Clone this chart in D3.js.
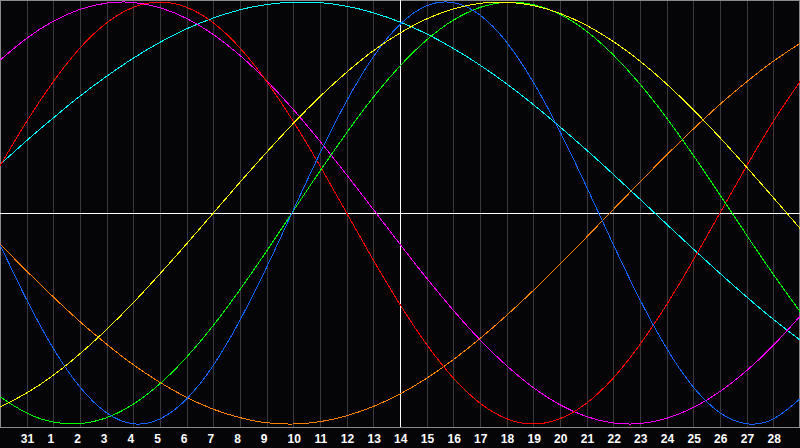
<!DOCTYPE html>
<html><head><meta charset="utf-8">
<script src="https://cdn.jsdelivr.net/npm/d3@7"></script>
<style>html,body{margin:0;padding:0;background:#050508;overflow:hidden}svg{display:block}</style>
</head><body>
<script>
// day labels (first and last sit on the chart edges and are not labelled)
const days = [30,31,1,2,3,4,5,6,7,8,9,10,11,12,13,14,15,16,17,18,19,20,21,22,23,24,25,26,27,28,29];
const todayIndex = 15; // day 14

// cycle values per day, -1..1
const physical = [-0.150,-0.411,-0.642,-0.825,-0.947,-0.999,-0.976,-0.881,-0.722,-0.508,-0.257,0.014,0.283,0.531,0.740,0.894,0.982,0.997,0.938,0.809,0.620,0.386,0.123,-0.150,-0.411,-0.642,-0.825,-0.947,-0.999,-0.976,-0.881];
const emotional = [0.223,0.434,0.623,0.782,0.901,0.975,1.000,0.975,0.901,0.782,0.623,0.434,0.223,0.000,-0.223,-0.434,-0.623,-0.782,-0.901,-0.975,-1.000,-0.975,-0.901,-0.782,-0.623,-0.434,-0.223,0.000,0.223,0.434,0.623];
const intellectual = [-0.871,-0.948,-0.991,-0.998,-0.970,-0.906,-0.809,-0.683,-0.533,-0.363,-0.180,0.010,0.199,0.380,0.549,0.697,0.820,0.914,0.974,0.999,0.988,0.942,0.861,0.749,0.611,0.450,0.273,0.086,-0.105,-0.291,-0.467];
const intuitive = [0.724,0.828,0.909,0.965,0.995,0.998,0.973,0.922,0.846,0.747,0.627,0.490,0.340,0.181,0.017,-0.148,-0.309,-0.461,-0.601,-0.724,-0.828,-0.909,-0.965,-0.995,-0.998,-0.973,-0.922,-0.846,-0.747,-0.627,-0.490];
const aesthetic = [-0.920,-0.853,-0.769,-0.667,-0.552,-0.425,-0.288,-0.146,0.000,0.146,0.288,0.425,0.552,0.667,0.769,0.853,0.920,0.967,0.994,0.999,0.983,0.946,0.889,0.813,0.720,0.611,0.489,0.357,0.217,0.073,-0.073];
const awareness = [-0.147,-0.275,-0.398,-0.515,-0.622,-0.719,-0.803,-0.874,-0.930,-0.970,-0.994,-1.000,-0.989,-0.961,-0.917,-0.858,-0.783,-0.695,-0.595,-0.485,-0.367,-0.242,-0.114,0.017,0.147,0.275,0.398,0.515,0.622,0.719,0.804];
const spiritual = [0.229,0.343,0.451,0.554,0.648,0.734,0.809,0.873,0.924,0.963,0.988,0.999,0.997,0.980,0.949,0.905,0.849,0.780,0.701,0.612,0.514,0.408,0.298,0.183,0.065,-0.053,-0.171,-0.286,-0.398,-0.504,-0.602];

const seriesNames = ["awareness","spiritual","intuitive","emotional","intellectual","physical","aesthetic"];
const seriesValues = [awareness, spiritual, intuitive, emotional, intellectual, physical, aesthetic];
const seriesColors = ["#ff8000","#00ffff","#ff00ff","#ff0000","#00ff00","#1064ff","#ffff00"];

const W = 800, H = 448, plotBottom = 427;
const svg = d3.select("body").append("svg").attr("width", W).attr("height", H);
svg.append("rect").attr("width", W).attr("height", H).attr("fill", "#050508");

const x = d3.scaleLinear().domain([0, days.length - 1]).range([0, W]);
const y = d3.scaleLinear().domain([-1, 1]).range([424, 2]);

// day grid
const gridIdx = d3.range(1, days.length - 1);
svg.append("g").selectAll("line").data(gridIdx).join("line")
  .attr("x1", i => Math.round(x(i)) + 0.5).attr("x2", i => Math.round(x(i)) + 0.5)
  .attr("y1", 0).attr("y2", plotBottom)
  .attr("stroke", "#3a3a3c").attr("stroke-width", 1).attr("shape-rendering", "crispEdges");

// border
svg.append("rect").attr("x", 0.5).attr("y", 0.5).attr("width", W - 1).attr("height", plotBottom)
  .attr("fill", "none").attr("stroke", "#8a8a8a").attr("shape-rendering", "crispEdges");

// axes lines
svg.append("line").attr("x1", 0).attr("x2", W).attr("y1", Math.round(y(0)) + 0.5).attr("y2", Math.round(y(0)) + 0.5)
  .attr("stroke", "#ffffff").attr("stroke-width", 1).attr("shape-rendering", "crispEdges");
svg.append("line").attr("x1", Math.round(x(todayIndex)) + 0.5).attr("x2", Math.round(x(todayIndex)) + 0.5)
  .attr("y1", 0).attr("y2", plotBottom)
  .attr("stroke", "#ffffff").attr("stroke-width", 1).attr("shape-rendering", "crispEdges");

// curves
const line = d3.line().x((d, i) => x(i)).y(d => y(d)).curve(d3.curveNatural);
svg.append("g").selectAll("path").data(seriesValues).join("path")
  .attr("d", d => line(d)).attr("fill", "none")
  .attr("stroke", (d, i) => seriesColors[i]).attr("stroke-width", 1)
  .attr("shape-rendering", "crispEdges");

// labels
svg.append("g").selectAll("text").data(gridIdx).join("text")
  .attr("x", i => x(i) + (String(days[i]).length === 1 ? -2.5 : 0.8))
  .attr("y", 442.5)
  .attr("text-anchor", "middle")
  .attr("fill", "#ffffff")
  .attr("font-family", "'Liberation Sans', Arial, sans-serif")
  .attr("font-weight", "bold")
  .attr("font-size", 12)
  .text(i => days[i]);
</script>
</body></html>
